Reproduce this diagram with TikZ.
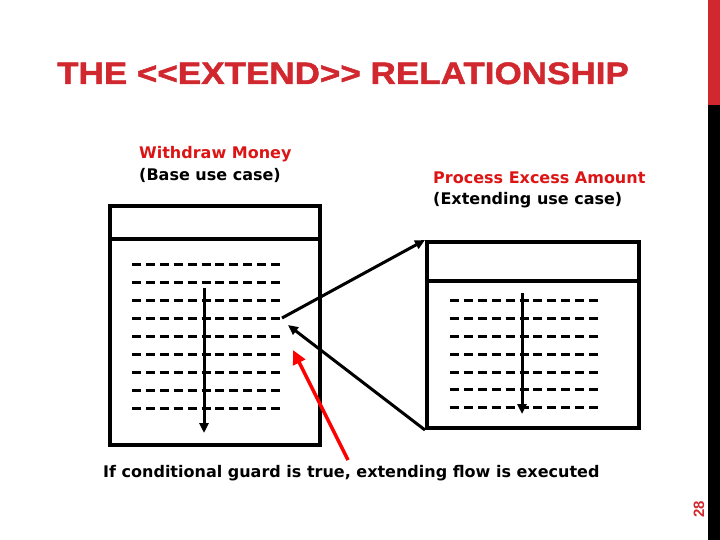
\documentclass[tikz,border=0pt]{standalone}
\usepackage{fontspec}
\setmainfont{DejaVu Sans}
\newfontfamily\titlefont[FakeStretch=1.13,FakeBold=1.5]{Liberation Sans}
\newfontfamily\numfont{Liberation Sans}
\usetikzlibrary{arrows.meta}
\definecolor{slidered}{RGB}{208,40,46}
\definecolor{labelred}{RGB}{220,20,20}
\tikzset{
  box/.style={draw=black, line width=4pt, fill=white, inner sep=0pt, anchor=north west},
  dashrow/.style={line width=3pt, dash pattern=on 9pt off 4.9pt},
  flow/.style={line width=3pt, -{Triangle[length=10pt,width=9pt]}},
  link/.style={line width=3pt, -{Triangle[length=10pt,width=9pt]}},
  guard/.style={draw=red, line width=3.5pt, -{Triangle[length=14pt,width=13pt]}},
  lbl/.style={font=\bfseries\fontsize{16}{19}\selectfont, inner sep=0pt, anchor=base west}
}
\begin{document}
\begin{tikzpicture}[x=1pt,y=-1pt]
\useasboundingbox (0,0) rectangle (720,540);
% right-hand bar
\fill[slidered] (708,0) rectangle (720,105);
\fill[black] (708,105) rectangle (720,540);
\node[rotate=90, text=slidered, font=\numfont\bfseries\fontsize{15}{15}\selectfont, inner sep=0pt] (pg) at (699,509) {28};
% title
\node[anchor=base west, inner sep=0pt, text=slidered, font=\titlefont\bfseries\fontsize{31}{31}\selectfont] (title) at (57,84) {THE <{}<EXTEND>{}> RELATIONSHIP};
% labels
\node[lbl, text=labelred] (wm) at (139,159) {Withdraw Money};
\node[lbl] (wb) at (139,181) {(Base use case)};
\node[lbl, text=labelred] (pe) at (433,184) {Process Excess Amount};
\node[lbl] (pb) at (433,205) {(Extending use case)};
% base use case box
\node[box, minimum width=210pt, minimum height=239pt] (base) at (108,204) {};
\draw[line width=4pt] (108,239) -- (318,239);
\foreach \y in {264,282,300,318,336,354,372,390,408}
  \draw[dashrow] (132,\y) -- (281,\y);
\draw[flow] (204,288) -- (204,433);
% extending use case box
\node[box, minimum width=212pt, minimum height=186pt] (ext) at (425,240) {};
\draw[line width=4pt] (425,281) -- (637,281);
\foreach \y in {300,318,336,354,372,389,407}
  \draw[dashrow] (450,\y) -- (599,\y);
\draw[flow] (522,293) -- (522,414);
% extend links
\coordinate (ep) at (282,318);
\coordinate (rp) at (288,325);
\draw[link] (ep) -- (ext.north west);
\draw[link] (ext.south west) -- (rp);
% guard
\coordinate (gs) at (348,460);
\coordinate (ge) at (293,350);
\draw[guard] (gs) -- (ge);
\node[lbl] (cap) at (103,477) {If conditional guard is true, extending flow is executed};
\end{tikzpicture}
\end{document}
